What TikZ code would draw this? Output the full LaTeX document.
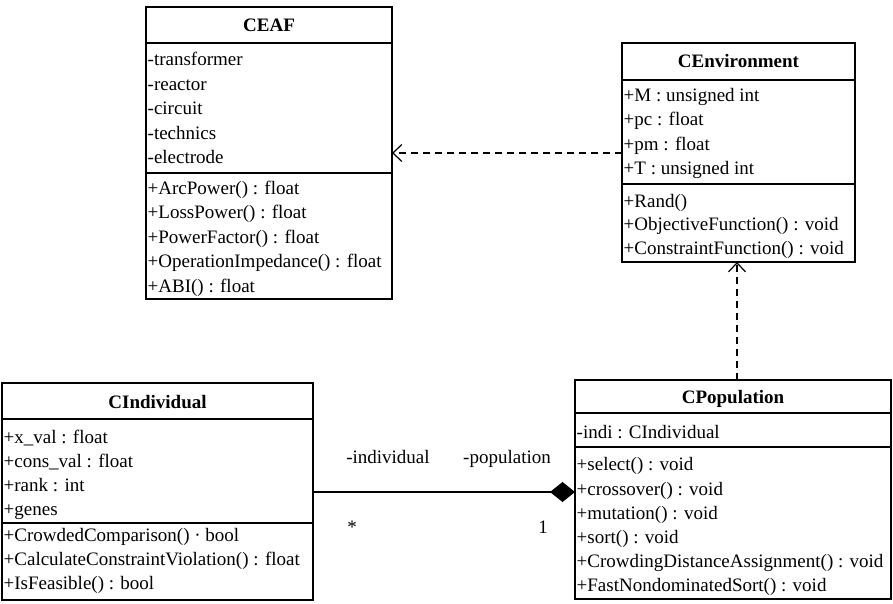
\documentclass[tikz,border=0pt]{standalone}
\usepackage{fontspec}
\setmainfont{Liberation Serif}
\usetikzlibrary{arrows.meta}
\begin{document}
\begin{tikzpicture}[x=1pt,y=-1pt,
  classbox/.style={draw, line width=1.6pt, inner sep=0pt, outer sep=0pt, anchor=north west},
  divider/.style={line width=1.3pt},
  member/.style={anchor=base west, inner sep=0pt, font=\fontsize{19}{23}\selectfont},
  classtitle/.style={anchor=base, inner sep=0pt, font=\fontsize{19}{23}\selectfont\bfseries},
  rolelabel/.style={anchor=base, inner sep=0pt, font=\fontsize{19}{23}\selectfont},
  dep/.style={line width=1.2pt, dash pattern=on 7pt off 5pt,
    -{Straight Barb[length=9pt,width=17pt]}},
  assoc/.style={line width=1.3pt, -{Diamond[length=25pt,width=20pt]}}
]
\useasboundingbox (0,0) rectangle (893,604);

% ---------- CEAF ----------
\node[classbox, minimum width=246pt, minimum height=292pt] (ceaf) at (146,7) {};
\draw[divider] (146,43) -- (392,43);
\draw[divider] (146,173) -- (392,173);
\node[classtitle] (ceaft) at (269,32) {CEAF};
\node[member] (ceafa1) at (147.5,66) {-transformer};
\node[member] (ceafa2) at (147.5,90.5) {-reactor};
\node[member] (ceafa3) at (147.5,115) {-circuit};
\node[member] (ceafa4) at (147.5,139.5) {-technics};
\node[member] (ceafa5) at (147.5,164) {-electrode};
\node[member] (ceafm1) at (147.5,194) {+ArcPower() : float};
\node[member] (ceafm2) at (147.5,218.5) {+LossPower() : float};
\node[member] (ceafm3) at (147.5,243) {+PowerFactor() : float};
\node[member] (ceafm4) at (147.5,267.5) {+OperationImpedance() : float};
\node[member] (ceafm5) at (147.5,292) {+ABI() : float};

% ---------- CEnvironment ----------
\node[classbox, minimum width=233pt, minimum height=219pt] (cenv) at (622,43) {};
\draw[divider] (622,80) -- (855,80);
\draw[divider] (622,184) -- (855,184);
\node[classtitle] (cenvt) at (738.5,68) {CEnvironment};
\node[member] (cenva1) at (623.5,101.5) {+M : unsigned int};
\node[member] (cenva2) at (623.5,126) {+pc : float};
\node[member] (cenva3) at (623.5,150.5) {+pm : float};
\node[member] (cenva4) at (623.5,174.5) {+T : unsigned int};
\node[member] (cenvm1) at (623.5,207) {+Rand()};
\node[member] (cenvm2) at (623.5,230.5) {+ObjectiveFunction() : void};
\node[member] (cenvm3) at (623.5,254) {+ConstraintFunction() : void};

% ---------- CIndividual ----------
\node[classbox, minimum width=311pt, minimum height=217pt] (cind) at (2,383) {};
\draw[divider] (2,419) -- (313,419);
\draw[divider] (2,523) -- (313,523);
\node[classtitle] (cindt) at (157.5,408) {CIndividual};
\node[member] (cinda1) at (3.5,443) {+x\_val : float};
\node[member] (cinda2) at (3.5,467) {+cons\_val : float};
\node[member] (cinda3) at (3.5,491) {+rank : int};
\node[member] (cinda4) at (3.5,515) {+genes};
\node[member] (cindm1) at (3.5,541) {+CrowdedComparison() · bool};
\node[member] (cindm2) at (3.5,565) {+CalculateConstraintViolation() : float};
\node[member] (cindm3) at (3.5,589) {+IsFeasible() : bool};

% ---------- CPopulation ----------
\node[classbox, minimum width=316pt, minimum height=219pt] (cpop) at (575,380) {};
\draw[divider] (575,413) -- (891,413);
\draw[divider] (575,447) -- (891,447);
\node[classtitle] (cpopt) at (733,403) {CPopulation};
\node[member] (cpopa1) at (576.5,438) {-indi : CIndividual};
\node[member] (cpopm1) at (576.5,470) {+select() : void};
\node[member] (cpopm2) at (576.5,495) {+crossover() : void};
\node[member] (cpopm3) at (576.5,519) {+mutation() : void};
\node[member] (cpopm4) at (576.5,543) {+sort() : void};
\node[member] (cpopm5) at (576.5,567) {+CrowdingDistanceAssignment() : void};
\node[member] (cpopm6) at (576.5,591) {+FastNondominatedSort() : void};

% ---------- relations ----------
\coordinate (envlvl) at (0,153);
\coordinate (popx) at (737,0);
\coordinate (asslvl) at (0,492);

\draw[dep] (cenv.west |- envlvl) -- (ceaf.east |- envlvl);
\draw[dep] (cpop.north -| popx) -- (cenv.south -| popx);
\draw[assoc] (cind.east |- asslvl) -- (cpop.west |- asslvl);

\node[rolelabel] (rind) at (388,463) {-individual};
\node[rolelabel] (rpop) at (507,463) {-population};
\node[rolelabel] (mind) at (352,533) {*};
\node[rolelabel] (mpop) at (543,533) {1};
\end{tikzpicture}
\end{document}
